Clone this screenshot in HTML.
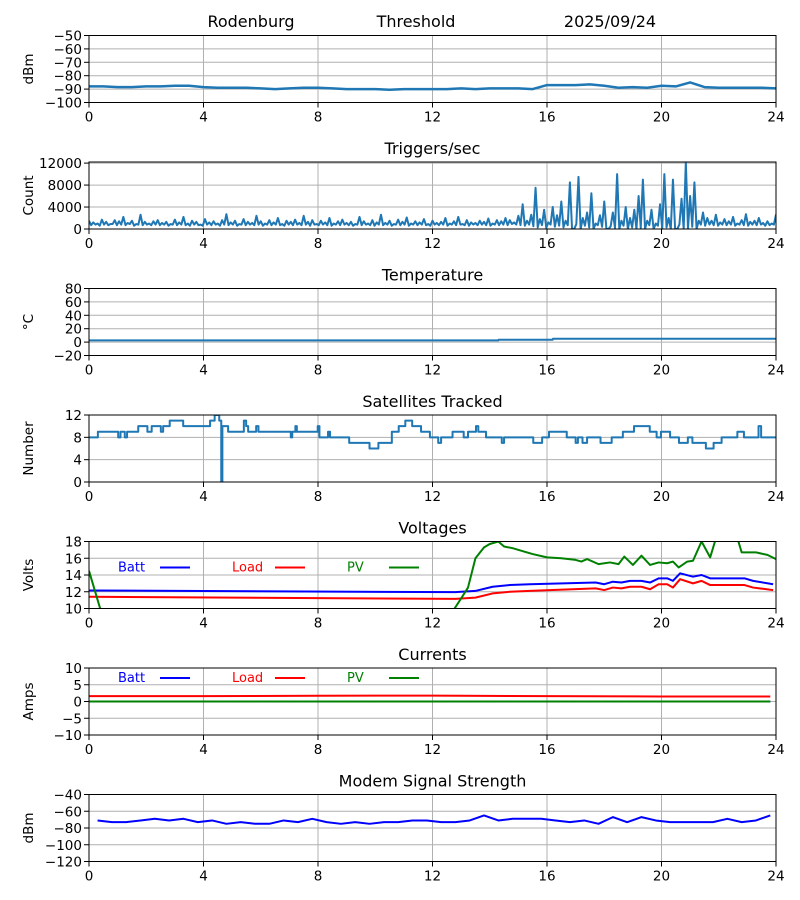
<!DOCTYPE html>
<html><head><meta charset="utf-8"><style>
html,body{margin:0;padding:0;background:#fff}
svg{display:block;font-family:"DejaVu Sans","Liberation Sans",sans-serif}
</style></head><body>
<svg id="fig" width="800" height="900" xmlns="http://www.w3.org/2000/svg"></svg>
<script>
const xTicks=[0,4,8,12,16,20,24];
const sigVals=[-88,-88,-88.5,-88.5,-88,-88,-87.5,-87.5,-88.5,
-89,-89,-89,-89.5,-90,-89.5,-89,-89,
-89.5,-90,-90,-90,-90.5,-90,-90,-90,
-90,-89.5,-90,-89.5,-89.5,-89.5,-90,-87,
-87,-87,-86.5,-87.5,-89,-88.5,-89,-87.5,
-88,-85,-88.5,-89,-89,-89,-89,-89.5];
const trigVals=[1500,1200,1000,1700,1300,900,1600,1400,2200,1100,1500,900,2600,1300,1000,1400,
1600,1100,1300,900,1700,1200,2200,1000,1500,1300,800,1800,1200,1400,1000,1600,
2700,1200,1500,900,1800,1300,1100,2400,1400,1000,1600,1200,2000,900,1500,1300,
1700,1100,2400,1300,1600,900,1500,1200,2000,1000,1400,1700,1100,1300,900,2200,
1400,1000,1600,1200,2600,1100,1500,900,1700,1300,2100,1000,1400,1200,1800,900,
1500,1100,1300,2000,1000,1400,2200,900,1600,1200,1100,1500,1300,1900,1000,1600,
1400,2000,1600,1200,2400,4500,1500,2600,7500,1800,3500,1200,4000,2500,5000,1500,
8500,0,9500,2000,3000,6500,1000,2500,5000,0,3000,10000,1500,4000,2000,3500,
6000,9000,1500,3500,1000,4500,10000,2000,9000,0,5500,12200,6000,8500,1500,3000,
2000,1500,2600,1200,1800,1400,2200,1000,1600,2700,1300,1500,2000,1100,1400,1000,2600];
const trigMin=[700,800,600,800,700,900,700,800,700,900,600,800,700,800,700,800,
700,800,600,800,700,800,700,600,800,700,600,800,700,800,600,800,
700,800,600,800,700,800,700,800,600,800,700,800,700,600,800,700,
800,700,800,600,800,700,800,700,600,800,700,800,700,600,800,700,
800,700,600,800,700,800,600,800,700,800,600,800,700,800,700,600,
800,700,800,600,800,700,800,700,600,800,700,800,700,600,800,700,
800,700,900,800,700,600,800,500,300,700,200,800,400,600,300,700,
0,900,0,600,300,0,700,400,0,500,200,0,600,0,300,0,
200,0,700,0,600,0,300,0,0,800,0,0,400,0,800,600,
800,700,600,800,700,800,600,800,700,600,800,700,800,600,700,800,600];
const tempT=[0,14.3,14.31,16.2,16.21,24];
const tempV=[2.5,2.5,3.5,3.5,5,5];
const satT=[0,0.31,1.02,1.10,1.25,1.33,1.72,2.04,2.19,2.51,2.59,2.82,3.29,4.23,4.39,4.55,4.62,4.66,4.86,5.41,5.49,5.56,5.84,5.92,7.05,7.1,7.21,7.26,7.99,8.05,8.35,8.42,9.09,9.8,10.11,10.58,10.82,11.05,11.29,11.6,11.91,12.2,12.3,12.7,13.09,13.24,13.52,13.6,13.87,14.42,14.5,15.52,15.83,16.07,16.69,17.0,17.08,17.24,17.4,17.87,18.26,18.65,19.04,19.59,19.83,19.98,20.3,20.61,20.92,21.08,21.55,21.82,22.1,22.65,22.88,23.39,23.48,24];
const satV=[8,9,8,9,8,9,10,9,10,9,10,11,10,11,12,11,0,10,9,11,10,9,10,9,8,9,10,9,10,8,9,8,7,6,7,9,10,11,10,9,8,7,8,9,8,9,10,9,8,7,8,7,8,9,8,7,8,7,8,7,8,9,10,9,8,9,8,7,8,7,6,7,8,9,8,10,8,8];
const battT=[0,12.8,13.5,14.1,14.7,15.4,17.7,18.0,18.3,18.6,18.9,19.3,19.6,19.9,20.2,20.4,20.65,21.1,21.4,21.7,22.9,23.2,23.9];
const battV=[12.15,11.95,12.1,12.6,12.8,12.9,13.1,12.9,13.2,13.1,13.3,13.3,13.1,13.6,13.6,13.3,14.2,13.8,14.0,13.6,13.6,13.3,12.9];
const loadV=[11.4,11.15,11.3,11.8,12.0,12.1,12.4,12.2,12.5,12.4,12.6,12.6,12.3,12.9,12.9,12.5,13.5,13.0,13.3,12.8,12.8,12.5,12.2];
const pvT=[0,0.39,0.5,12.7,12.77,13.0,13.24,13.5,13.8,14.0,14.3,14.5,14.8,15.2,15.5,16,16.5,17.0,17.2,17.4,17.8,18.2,18.5,18.7,19.0,19.3,19.6,19.9,20.2,20.4,20.6,20.9,21.1,21.4,21.7,22.0,22.6,22.8,23.3,23.7,24.0];
const pvV=[14.5,10,0,0,10,11.2,12.5,16.0,17.3,17.7,18.0,17.4,17.2,16.8,16.5,16.1,16.0,15.8,15.6,15.9,15.3,15.5,15.3,16.2,15.2,16.3,15.2,15.5,15.4,15.6,14.9,15.6,15.7,18.0,16.1,19.5,19.0,16.7,16.7,16.4,15.9];
const curT=[0,4,8,10,12,13,16,20,23.8];
const curBatt=[0,0,0,0,0,0,0,0,0];
const curLoad=[1.6,1.6,1.7,1.75,1.75,1.7,1.6,1.5,1.5];
const curPV=[0,0,0,0,0,0,0,0,0];
const modT=[0.3,0.8,1.3,1.8,2.3,2.8,3.3,3.8,4.3,4.8,5.3,5.8,6.3,6.8,7.3,7.8,8.3,8.8,9.3,9.8,10.3,10.8,11.3,11.8,12.3,12.8,13.3,13.8,14.3,14.8,15.3,15.8,16.3,16.8,17.3,17.8,18.3,18.8,19.3,19.8,20.3,20.8,21.3,21.8,22.3,22.8,23.3,23.8];
const modV=[-71,-73,-73,-71,-69,-71,-69,-73,-71,-75,-73,-75,-75,-71,-73,-69,-73,-75,-73,-75,-73,-73,-71,-71,-73,-73,-71,-65,-71,-69,-69,-69,-71,-73,-71,-75,-67,-73,-67,-71,-73,-73,-73,-73,-69,-73,-71,-65];

const NS='http://www.w3.org/2000/svg';
const svg=document.getElementById('fig');
const X0=89,X1=776;
function el(tag,attrs,parent){const e=document.createElementNS(NS,tag);for(const k in attrs)e.setAttribute(k,attrs[k]);(parent||svg).appendChild(e);return e;}
function sx(t){return X0+(t/24)*(X1-X0);}
let clipN=0;
function panel(idx,title,ylabel,ymin,ymax,yTicks,name){
  const top=35.5+idx*126.5,bot=top+67;
  const g=el('g',{});
  
  
  const sy=v=>bot-(v-ymin)/(ymax-ymin)*(bot-top);
  xTicks.forEach(t=>{const l=el('line',{x1:sx(t),x2:sx(t),y1:top,y2:bot,stroke:'#b0b0b0','stroke-width':1},g);
    });
  yTicks.forEach(v=>{const l=el('line',{x1:X0,x2:X1,y1:sy(v),y2:sy(v),stroke:'#b0b0b0','stroke-width':1},g);
    });
  xTicks.forEach(t=>{el('line',{x1:sx(t),x2:sx(t),y1:bot,y2:bot+5,stroke:'#000','stroke-width':1},g);
    const tx=el('text',{x:sx(t),y:bot+19,'font-size':13.5,'text-anchor':'middle'},g);tx.textContent=t;
    });
  yTicks.forEach(v=>{el('line',{x1:X0-5,x2:X0,y1:sy(v),y2:sy(v),stroke:'#000','stroke-width':1},g);
    const tx=el('text',{x:X0-7,y:sy(v)+5,'font-size':13.5,'text-anchor':'end'},g);tx.textContent=String(v).replace('-','\u2212');
    });
  const yl=el('text',{x:0,y:0,'font-size':13.5,'text-anchor':'middle',transform:`translate(33,${(top+bot)/2}) rotate(-90)`},g);
  yl.textContent=ylabel;
  
  if(title){const tt=el('text',{x:(X0+X1)/2,y:top-8,'font-size':16,'text-anchor':'middle'},g);tt.textContent=title;
    }
  const cid='c'+(clipN++);
  const cp=el('clipPath',{id:cid},g);el('rect',{x:X0,y:top,width:X1-X0,height:bot-top},cp);
  const plot=el('g',{'clip-path':`url(#${cid})`},g);
  const frame=el('rect',{x:X0,y:top,width:X1-X0,height:bot-top,fill:'none',stroke:'#000','stroke-width':1},g);
  
  return {g,plot,sy,top,bot};
}
function line(p,ts,vs,color,w,name,step){
  let d='';
  for(let i=0;i<vs.length;i++){
    const x=sx(ts[i]).toFixed(2),y=p.sy(vs[i]).toFixed(2);
    if(i===0)d+=`M${x},${y}`;
    else if(step){d+=`H${x}V${y}`;}
    else d+=`L${x},${y}`;
  }
  const pa=el('path',{d,fill:'none',stroke:color,'stroke-width':w,'stroke-linejoin':'round'},p.plot);
  
  return pa;
}
function legend(p,dy){
  const items=[['Batt','blue',118,160],['Load','red',232,275],['PV','green',347,389]];
  items.forEach(([lab,c,tx,lx])=>{
    const t=el('text',{x:tx,y:p.top+dy+4,'font-size':13,fill:c},p.g);t.textContent=lab;
    
    const l=el('line',{x1:lx,x2:lx+30,y1:p.top+dy,y2:p.top+dy,stroke:c,'stroke-width':2},p.g);
    
  });
}
const BLUE='#1f77b4';
const p1=panel(0,null,'dBm',-100,-50,[-100,-90,-80,-70,-60,-50],'signal');
[['Rodenburg',251],['Threshold',416],['2025/09/24',610]].forEach(([s,x])=>{
  const t=el('text',{x,y:27,'font-size':16,'text-anchor':'middle'});t.textContent=s;
  });
line(p1,sigVals.map((v,i)=>i*0.5),sigVals,BLUE,2.5,'signal-line');
// triggers: dense min/max zigzag
const p2=panel(1,'Triggers/sec','Count',0,12200,[0,4000,8000,12000],'triggers');
(function(){
  let d='';
  for(let i=0;i<trigVals.length;i++){
    const t=i*0.15;
    const xa=sx(t).toFixed(2),xb=sx(t+0.075).toFixed(2);
    d+=(i===0?'M':'L')+xa+','+p2.sy(trigVals[i]).toFixed(2)+'L'+xb+','+p2.sy(trigMin[i]).toFixed(2);
  }
  const pa=el('path',{d,fill:'none',stroke:BLUE,'stroke-width':2,'stroke-linejoin':'round'},p2.plot);
  
})();
const p3=panel(2,'Temperature','\u00B0C',-20,80,[-20,0,20,40,60,80],'temperature');
line(p3,tempT,tempV,BLUE,2,'temperature-line');
const p4=panel(3,'Satellites Tracked','Number',0,12,[0,4,8,12],'satellites');
line(p4,satT,satV,BLUE,2,'satellites-line',true);
const p5=panel(4,'Voltages','Volts',10,18,[10,12,14,16,18],'voltages');
line(p5,battT,battV,'blue',2,'batt-voltage-line');
line(p5,battT,loadV,'red',2,'load-voltage-line');
line(p5,pvT,pvV,'green',2,'pv-voltage-line');
legend(p5,26);
const p6=panel(5,'Currents','Amps',-10,10,[-10,-5,0,5,10],'currents');
line(p6,curT,curBatt,'blue',2,'batt-current-line');
line(p6,curT,curLoad,'red',2,'load-current-line');
line(p6,curT,curPV,'green',2,'pv-current-line');
legend(p6,10);
const p7=panel(6,'Modem Signal Strength','dBm',-120,-40,[-120,-100,-80,-60,-40],'modem');
line(p7,modT,modV,'blue',2,'modem-line');
</script>
</body></html>
